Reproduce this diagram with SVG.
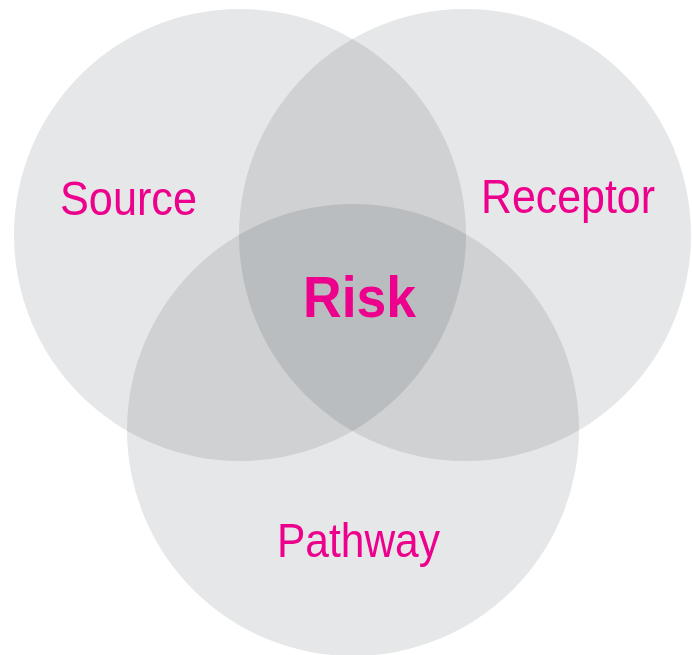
<svg xmlns="http://www.w3.org/2000/svg" width="692" height="655" viewBox="0 0 692 655">
  <style>
    .c { fill: #e6e7e8; mix-blend-mode: multiply; }
    .lbl { font-family: "Liberation Sans", Arial, sans-serif; fill: #ec008c; font-size: 48px; }
    .risk { font-family: "Liberation Sans", Arial, sans-serif; fill: #ec008c; font-size: 58px; font-weight: bold; }
  </style>
  <rect width="692" height="655" fill="#ffffff"/>
  <g style="isolation:isolate">
    <g id="source"><circle class="c" cx="240" cy="235" r="226"/></g>
    <g id="receptor"><circle class="c" cx="465" cy="235" r="226"/></g>
    <g id="pathway"><circle class="c" cx="353" cy="430" r="226"/></g>
  </g>
  <g id="connectors"></g>
  <g id="labels">
    <text class="lbl" x="60" y="215" textLength="137" lengthAdjust="spacingAndGlyphs">Source</text>
    <text class="lbl" x="481" y="213" textLength="174" lengthAdjust="spacingAndGlyphs">Receptor</text>
    <text class="lbl" x="277" y="557" textLength="163" lengthAdjust="spacingAndGlyphs">Pathway</text>
    <text class="risk" x="303" y="317" textLength="113" lengthAdjust="spacingAndGlyphs">Risk</text>
  </g>
</svg>
